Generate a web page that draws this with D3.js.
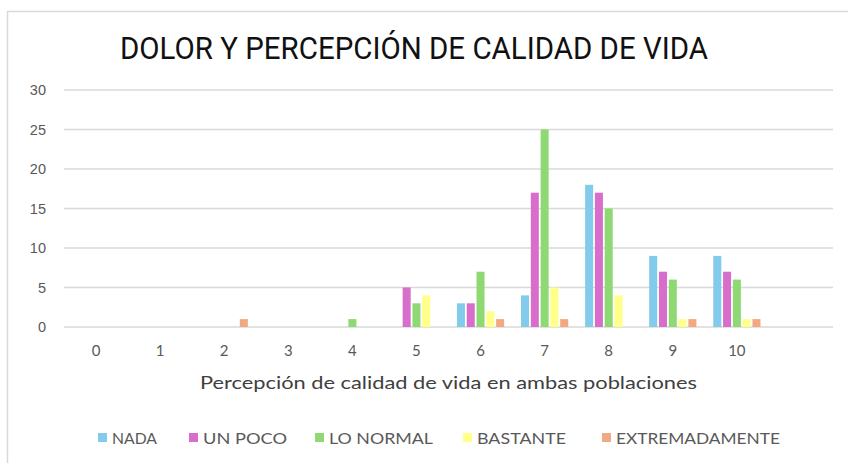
<!DOCTYPE html>
<html>
<head>
<meta charset="utf-8">
<script src="https://cdn.jsdelivr.net/npm/d3@7"></script>
<style>
html,body{margin:0;padding:0;background:#fff;}
svg{display:block;}
</style>
</head>
<body>
<svg id="chart" width="848" height="463"></svg>
<script>
const categories = ["0","1","2","3","4","5","6","7","8","9","10",""];
const seriesNames = ["NADA","UN POCO","LO NORMAL","BASTANTE","EXTREMADAMENTE"];
const nada        = [0,0,0,0,0,0,3,4,18,9,9,0];
const unPoco      = [0,0,0,0,0,5,3,17,17,7,7,0];
const loNormal    = [0,0,0,0,1,3,7,25,15,6,6,0];
const bastante    = [0,0,0,0,0,4,2,5,4,1,1,0];
const extremadamente = [0,0,1,0,0,0,1,1,0,1,1,0];
const yTicks = [0,5,10,15,20,25,30];
const colors = ["#83CBEB","#D86ECC","#8ED973","#FFFF89","#F1A983"];
const titleText = "DOLOR Y PERCEPCIÓN DE CALIDAD DE VIDA";
const xTitle = "Percepción de calidad de vida en ambas poblaciones";

const seriesValues = [nada, unPoco, loNormal, bastante, extremadamente];
const svg = d3.select("#chart");

// frame
svg.append("path").attr("d","M7.5,463 V11.5 H848").attr("fill","none").attr("stroke","#d9d9d9").attr("stroke-width",1.5);

const x = d3.scaleBand().domain(categories.map((c,i)=>i)).range([64,833]).padding(0);
const xs = d3.scaleBand().domain(seriesNames).range([0,x.bandwidth()]).paddingInner(0.18).paddingOuter(0.86);
const y = d3.scaleLinear().domain([0,30]).range([327,90]);

// gridlines
svg.append("g").selectAll("line").data(yTicks).join("line")
  .attr("x1",64).attr("x2",833)
  .attr("y1",d=>y(d)).attr("y2",d=>y(d))
  .attr("stroke","#d9d9d9").attr("stroke-width",1.5);

// y labels
const yAxis = d3.axisLeft(y).tickValues(yTicks).tickSize(0).tickPadding(0);
const gy = svg.append("g").attr("transform","translate(46,0)").call(yAxis);
gy.select(".domain").remove();
gy.selectAll("text").attr("font-family","Liberation Sans, Arial, sans-serif").attr("font-size",14.5).attr("fill","#595959");

// bars
const groups = svg.append("g").selectAll("g").data(seriesNames).join("g").attr("fill",(d,i)=>colors[i]);
groups.selectAll("rect").data((s,si)=>seriesValues[si].map((v,ci)=>({s,v,ci}))).join("rect")
  .filter(d=>d.v>0)
  .attr("x",d=>x(d.ci)+xs(d.s))
  .attr("width",xs.bandwidth())
  .attr("y",d=>y(d.v))
  .attr("height",d=>y(0)-y(d.v));

// x labels
const xAxis = d3.axisBottom(x).tickFormat(i=>categories[i]).tickSize(0).tickPadding(0);
const gx = svg.append("g").attr("transform","translate(0,345)").call(xAxis);
gx.select(".domain").remove();
gx.selectAll("text").attr("dy","0.75em").attr("font-family","Lato, 'Open Sans', sans-serif").attr("font-size",15).attr("fill","#595959");

// x title
svg.append("text").attr("x",448.5).attr("y",389).attr("text-anchor","middle")
  .attr("font-family","Lato, 'Open Sans', sans-serif").attr("font-size",17).attr("fill","#404040")
  .attr("textLength",497).attr("lengthAdjust","spacingAndGlyphs").text(xTitle);

// title
svg.append("text").attr("x",414).attr("y",59).attr("text-anchor","middle")
  .attr("font-family","Roboto, 'Liberation Sans', sans-serif").attr("font-weight",400).attr("font-size",31).attr("fill","#111")
  .attr("textLength",588).attr("lengthAdjust","spacingAndGlyphs").text(titleText);

// legend
const legendX = [98,189,315,463,602];
const legendW = [45,84,104,89,164];
const lg = svg.append("g").selectAll("g").data(seriesNames).join("g")
  .attr("transform",(d,i)=>`translate(${legendX[i]},0)`);
lg.append("rect").attr("x",0).attr("y",433).attr("width",9).attr("height",9).attr("fill",(d,i)=>colors[i]);
lg.append("text").attr("x",14).attr("y",443.5)
  .attr("font-family","Lato, 'Open Sans', sans-serif").attr("font-size",15).attr("fill","#595959")
  .attr("textLength",(d,i)=>legendW[i]).attr("lengthAdjust","spacingAndGlyphs").text(d=>d);
</script>
</body>
</html>
